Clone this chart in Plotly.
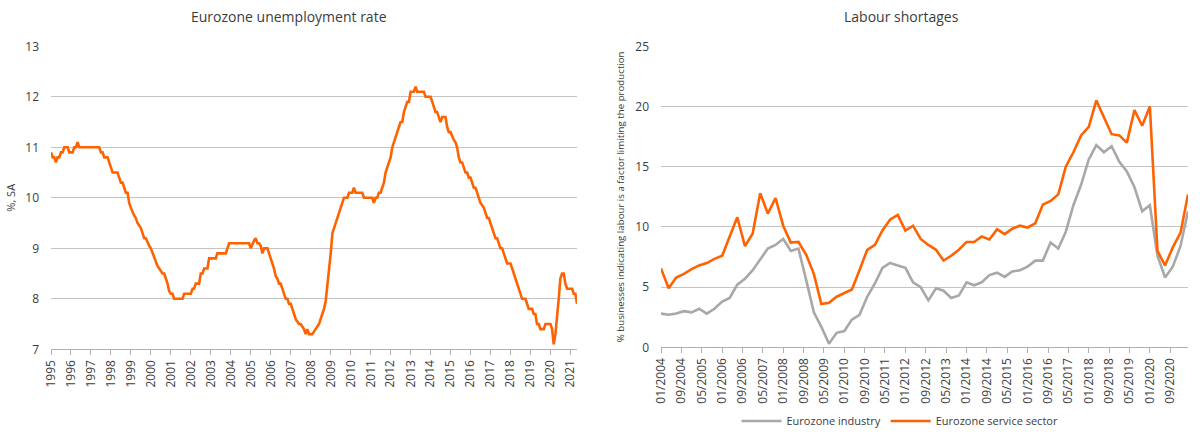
import pandas as pd
import plotly.graph_objects as go

# ---------------- Data ----------------
# Eurozone unemployment rate, %, SA (monthly, by year)
u1995 = [10.9, 10.8, 10.8, 10.7, 10.8, 10.8, 10.9, 10.9, 11.0, 11.0, 11.0, 10.9]
u1996 = [10.9, 10.9, 11.0, 11.0, 11.1, 11.0, 11.0, 11.0, 11.0, 11.0, 11.0, 11.0]
u1997 = [11.0, 11.0, 11.0, 11.0, 11.0, 11.0, 10.9, 10.9, 10.8, 10.8, 10.8, 10.7]
u1998 = [10.6, 10.5, 10.5, 10.5, 10.5, 10.4, 10.3, 10.3, 10.2, 10.1, 10.1, 9.9]
u1999 = [9.8, 9.7, 9.65, 9.6, 9.5, 9.45, 9.4, 9.3, 9.2, 9.2, 9.1, 9.05]
u2000 = [9.0, 8.9, 8.85, 8.75, 8.65, 8.6, 8.55, 8.5, 8.5, 8.4, 8.3, 8.15]
u2001 = [8.1, 8.1, 8.0, 8.0, 8.0, 8.0, 8.0, 8.0, 8.1, 8.1, 8.1, 8.1]
u2002 = [8.1, 8.2, 8.2, 8.3, 8.3, 8.3, 8.5, 8.5, 8.6, 8.6, 8.6, 8.8]
u2003 = [8.8, 8.8, 8.8, 8.8, 8.9, 8.9, 8.9, 8.9, 8.9, 8.9, 9.0, 9.1]
u2004 = [9.1, 9.1, 9.1, 9.1, 9.1, 9.1, 9.1, 9.1, 9.1, 9.1, 9.1, 9.1]
u2005 = [9.0, 9.1, 9.15, 9.2, 9.1, 9.1, 9.05, 8.9, 9.0, 9.0, 9.0, 8.9]
u2006 = [8.8, 8.7, 8.6, 8.45, 8.4, 8.3, 8.3, 8.2, 8.1, 8.0, 8.0, 7.9]
u2007 = [7.9, 7.8, 7.7, 7.6, 7.55, 7.5, 7.5, 7.45, 7.4, 7.3, 7.4, 7.3]
u2008 = [7.3, 7.3, 7.35, 7.4, 7.45, 7.5, 7.6, 7.7, 7.8, 7.95, 8.25, 8.6]
u2009 = [8.9, 9.3, 9.4, 9.5, 9.6, 9.7, 9.8, 9.9, 10.0, 10.0, 10.0, 10.1]
u2010 = [10.1, 10.1, 10.2, 10.1, 10.1, 10.1, 10.1, 10.1, 10.0, 10.0, 10.0, 10.0]
u2011 = [10.0, 10.0, 9.9, 10.0, 10.0, 10.1, 10.1, 10.2, 10.3, 10.5, 10.6, 10.7]
u2012 = [10.8, 11.0, 11.1, 11.2, 11.3, 11.4, 11.5, 11.5, 11.7, 11.8, 11.9, 11.9]
u2013 = [12.1, 12.1, 12.1, 12.2, 12.1, 12.1, 12.1, 12.1, 12.1, 12.0, 12.0, 12.0]
u2014 = [12.0, 11.9, 11.8, 11.7, 11.7, 11.6, 11.5, 11.6, 11.6, 11.6, 11.4, 11.3]
u2015 = [11.3, 11.2, 11.15, 11.1, 11.0, 10.8, 10.7, 10.7, 10.6, 10.5, 10.5, 10.4]
u2016 = [10.4, 10.3, 10.2, 10.2, 10.1, 10.0, 9.9, 9.85, 9.8, 9.7, 9.6, 9.6]
u2017 = [9.5, 9.4, 9.3, 9.2, 9.2, 9.1, 9.0, 9.0, 8.9, 8.8, 8.7, 8.7]
u2018 = [8.7, 8.6, 8.5, 8.4, 8.3, 8.2, 8.1, 8.0, 8.0, 8.0, 7.9, 7.8]
u2019 = [7.8, 7.8, 7.7, 7.7, 7.5, 7.5, 7.4, 7.4, 7.4, 7.5, 7.5, 7.5]
u2020 = [7.5, 7.4, 7.1, 7.3, 7.6, 8.0, 8.4, 8.5, 8.5, 8.3, 8.2, 8.2]
u2021 = [8.2, 8.2, 8.1, 8.1, 7.9]

unemployment = (u1995 + u1996 + u1997 + u1998 + u1999 + u2000 + u2001 + u2002 +
                u2003 + u2004 + u2005 + u2006 + u2007 + u2008 + u2009 + u2010 +
                u2011 + u2012 + u2013 + u2014 + u2015 + u2016 + u2017 + u2018 +
                u2019 + u2020 + u2021)
unemp_dates = pd.date_range("1995-01-01", periods=len(unemployment), freq="MS")

# Labour shortages, % of businesses (quarterly, Jan 2004 - Apr 2021)
industry = [2.8, 2.7, 2.8, 3.0,   2.9, 3.2, 2.8, 3.2,   3.8, 4.1, 5.2, 5.7,
            6.4, 7.3, 8.2, 8.5,   9.0, 8.0, 8.2, 5.6,   2.9, 1.7, 0.3, 1.2,
            1.35, 2.3, 2.7, 4.2,  5.3, 6.6, 7.0, 6.8,   6.6, 5.4, 5.0, 3.9,
            4.9, 4.7, 4.1, 4.3,   5.4, 5.15, 5.4, 6.0,  6.2, 5.85, 6.3, 6.4,
            6.7, 7.2, 7.2, 8.7,   8.2, 9.6, 11.8, 13.5, 15.6, 16.8, 16.2, 16.7,
            15.4, 14.6, 13.3, 11.3, 11.8, 7.6, 5.8, 6.7, 8.4, 11.3]
services = [6.55, 4.9, 5.8, 6.1,  6.5, 6.8, 7.0, 7.35,  7.6, 9.2, 10.8, 8.4,
            9.45, 12.8, 11.1, 12.4, 10.1, 8.7, 8.75, 7.7, 6.1, 3.6, 3.7, 4.2,
            4.5, 4.8, 6.4, 8.1,   8.5, 9.7, 10.6, 11.0, 9.7, 10.1, 9.0, 8.5,
            8.1, 7.2, 7.6, 8.1,   8.75, 8.75, 9.2, 8.95, 9.8, 9.4, 9.85, 10.1,
            9.95, 10.3, 11.85, 12.15, 12.7, 15.0, 16.2, 17.6, 18.3, 20.5, 19.1, 17.7,
            17.6, 17.0, 19.7, 18.4, 20.0, 8.0, 6.8, 8.3, 9.5, 12.7]
survey_dates = pd.date_range("2004-01-01", periods=len(services), freq="QS")

left_title = "Eurozone unemployment rate"
right_title = "Labour shortages"
left_ytitle = "%, SA"
right_ytitle = "% businesses indicating labour is a factor limiting the production"

# ---------------- Style ----------------
ORANGE = "#FF6200"
GREY = "#A8A8A8"
TXT = "#3c3c3c"
GRID = "#c4c4c4"
FONT = "Open Sans"

fig = go.Figure()
fig.add_trace(go.Scatter(x=unemp_dates, y=unemployment, mode="lines",
                         line=dict(color=ORANGE, width=2.6),
                         xaxis="x", yaxis="y", showlegend=False))
fig.add_trace(go.Scatter(x=survey_dates, y=industry, mode="lines",
                         name="Eurozone industry",
                         line=dict(color=GREY, width=2.6),
                         xaxis="x2", yaxis="y2"))
fig.add_trace(go.Scatter(x=survey_dates, y=services, mode="lines",
                         name="Eurozone service sector",
                         line=dict(color=ORANGE, width=2.6),
                         xaxis="x2", yaxis="y2"))

W, H = 1200, 438
def fx(px):
    return px / W
def fy(py):
    return 1 - py / H

common_x = dict(showgrid=False, showline=True, linecolor="#b0b0b0", linewidth=1,
                ticks="outside", ticklen=5, tickcolor="#b0b0b0", tickangle=-90,
                tickfont=dict(family=FONT, size=12, color=TXT), type="date",
                automargin=False)
common_y = dict(showgrid=True, gridcolor=GRID, gridwidth=1, zeroline=False,
                showline=False, ticks="", ticklabelstandoff=11,
                tickfont=dict(family=FONT, size=12, color=TXT), automargin=False)

fig.update_layout(
    width=W, height=H,
    margin=dict(l=0, r=0, t=0, b=0, autoexpand=False),
    paper_bgcolor="white", plot_bgcolor="white",
    font=dict(family=FONT, color=TXT),
    xaxis=dict(domain=[fx(51), fx(577)], anchor="y",
               range=[unemp_dates[0], unemp_dates[-1]],
               tick0="1995-01-01", dtick="M12", tickformat="%Y", **common_x),
    yaxis=dict(domain=[fy(349.3), fy(46.3)], anchor="x", range=[7, 13], dtick=1,
               title=dict(text=left_ytitle, standoff=7,
                          font=dict(family=FONT, size=11, color=TXT)),
               **common_y),
    xaxis2=dict(domain=[fx(661), fx(1188)], anchor="y2",
                range=[survey_dates[0], survey_dates[-1]],
                tick0="2004-01-01", dtick="M8", tickformat="%m/%Y", **common_x),
    yaxis2=dict(domain=[fy(347.3), fy(46.3)], anchor="x2", range=[0, 25], dtick=5,
                title=dict(text=right_ytitle, standoff=8,
                           font=dict(family=FONT, size=9.7, color=TXT)),
                **common_y),
    legend=dict(orientation="h", x=0.75, xanchor="center", y=fy(421), yanchor="middle",
                font=dict(family=FONT, size=11, color=TXT), itemwidth=40,
                tracegroupgap=0),
    annotations=[
        dict(text=left_title, x=fx(289), y=fy(17), xref="paper", yref="paper",
             showarrow=False, xanchor="center", yanchor="middle",
             font=dict(family=FONT, size=14, color=TXT)),
        dict(text=right_title, x=fx(901), y=fy(17), xref="paper", yref="paper",
             showarrow=False, xanchor="center", yanchor="middle",
             font=dict(family=FONT, size=14, color=TXT)),
    ],
)

fig.write_html("out.html", config={"displayModeBar": False},
               post_script="document.body.style.margin='0';document.body.style.padding='0';")
